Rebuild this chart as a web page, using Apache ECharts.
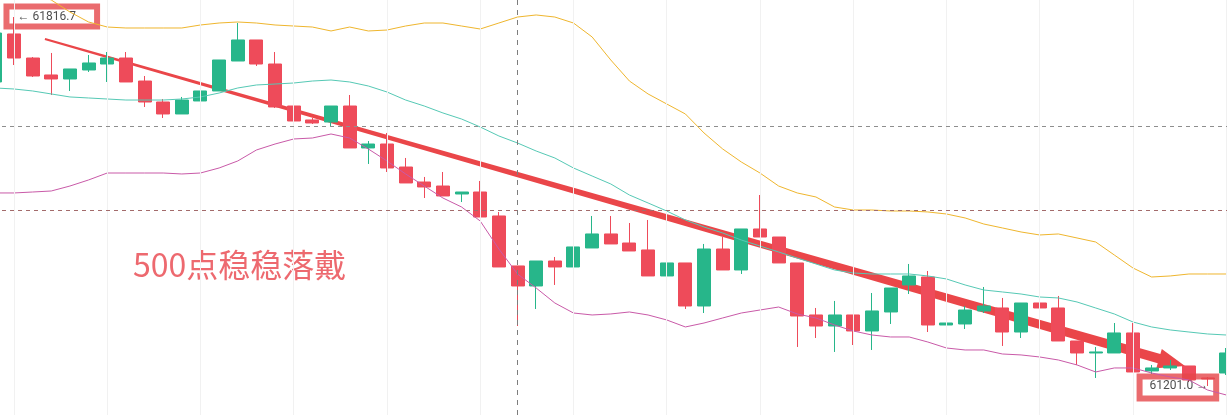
<!DOCTYPE html>
<html><head><meta charset="utf-8">
<script src="https://cdn.jsdelivr.net/npm/echarts@6/dist/echarts.min.js"></script>
<style>html,body{margin:0;padding:0;background:#fff;overflow:hidden}#c{width:1250px;height:415px;margin-left:-13.975px}</style>
</head><body><div id="c"></div>
<script>
// [open, close, low, high]
const candles = [
[61708.3,61790.0,61704.9,61795.0],
[61788.4,61748.3,61736.6,61816.7],
[61748.3,61718.3,61716.6,61750.0],
[61720.0,61713.3,61686.6,61756.7],
[61713.3,61730.0,61693.3,61730.0],
[61728.3,61740.0,61725.0,61753.3],
[61738.3,61748.3,61708.3,61758.3],
[61748.3,61708.3,61708.3,61758.3],
[61709.9,61674.9,61666.6,61718.3],
[61674.9,61654.9,61648.2,61679.9],
[61654.9,61678.2,61654.9,61683.3],
[61676.6,61693.3,61676.6,61711.6],
[61693.3,61745.0,61693.3,61745.0],
[61743.3,61778.4,61743.3,61806.7],
[61778.4,61738.3,61735.0,61778.4],
[61738.3,61666.6,61664.9,61758.3],
[61668.2,61643.2,61604.8,61668.2],
[61644.9,61639.9,61638.2,61648.2],
[61641.5,61668.2,61633.2,61668.2],
[61668.2,61598.2,61598.2,61686.6],
[61598.2,61604.8,61571.5,61609.8],
[61604.8,61564.8,61558.1,61623.2],
[61566.4,61539.8,61539.8,61581.5],
[61541.4,61533.1,61514.7,61549.8],
[61534.7,61518.1,61518.1,61558.1],
[61521.4,61524.7,61508.0,61524.7],
[61524.7,61483.0,61483.0,61543.1],
[61484.7,61399.6,61399.6,61491.4],
[61401.3,61367.9,61301.1,61401.3],
[61367.9,61409.6,61329.5,61409.6],
[61409.6,61399.6,61369.6,61416.3],
[61399.6,61433.0,61392.9,61443.0],
[61431.3,61454.7,61431.3,61484.7],
[61454.7,61438.0,61438.0,61484.7],
[61439.6,61426.3,61426.3,61473.0],
[61428.0,61384.6,61384.6,61478.0],
[61384.6,61406.3,61366.2,61416.3],
[61406.3,61334.5,61329.5,61406.3],
[61334.5,61429.6,61322.8,61438.0],
[61429.6,61394.6,61394.6,61449.6],
[61394.6,61463.0,61387.9,61463.0],
[61463.0,61449.6,61449.6,61519.7],
[61449.6,61406.3,61406.3,61449.6],
[61406.3,61317.8,61266.1,61406.3],
[61319.5,61301.1,61281.1,61331.2],
[61301.1,61319.5,61257.8,61342.9],
[61319.5,61292.8,61269.4,61319.5],
[61292.8,61326.2,61261.1,61356.2],
[61324.5,61364.5,61304.5,61364.5],
[61369.6,61384.6,61354.5,61404.6],
[61382.9,61302.8,61291.1,61392.9],
[61302.8,61306.1,61284.5,61342.9],
[61304.5,61327.8,61296.1,61334.5],
[61326.2,61334.5,61322.8,61366.2],
[61331.2,61291.1,61267.8,61347.9],
[61291.1,61339.5,61281.1,61339.5],
[61339.5,61331.2,61311.2,61344.5],
[61331.2,61276.1,61276.1,61351.2],
[61276.1,61256.1,61236.1,61276.1],
[61256.1,61257.8,61214.4,61266.1],
[61256.1,61289.5,61256.1,61306.1],
[61289.5,61224.4,61224.4,61306.1],
[61226.1,61231.1,61221.0,61236.1],
[61231.1,61234.4,61227.7,61244.4],
[61234.4,61211.0,61207.7,61234.4],
[61214.4,61212.7,61201.0,61216.0],
[61222.7,61256.1,61219.4,61264.4]
];
const upperBand = [61903.5,61878.5,61858.4,61845.1,61825.1,61808.4,61800.0,61798.4,61798.4,61798.4,61798.4,61803.4,61806.7,61808.4,61806.7,61803.4,61801.7,61800.0,61793.4,61800.0,61793.4,61795.0,61801.7,61806.7,61806.7,61801.7,61796.7,61806.7,61816.7,61820.1,61816.7,61806.7,61783.4,61745.0,61709.9,61688.3,61671.6,61654.9,61623.2,61596.5,61574.8,61556.4,61534.7,61523.1,61516.4,61499.7,61494.7,61494.7,61493.0,61493.0,61491.4,61488.0,61481.4,61471.3,61464.7,61458.0,61453.0,61454.7,61448.0,61441.3,61419.6,61397.9,61382.9,61384.6,61387.9,61387.9,61387.9];
const middleBand = [61698.3,61696.6,61693.3,61688.3,61683.3,61681.6,61679.9,61678.2,61678.2,61678.2,61679.9,61683.3,61689.9,61698.3,61703.3,61704.9,61706.6,61709.9,61711.6,61708.3,61701.6,61691.6,61678.2,61668.2,61656.6,61646.5,61633.2,61618.2,61606.5,61593.1,61581.5,61564.8,61551.4,61538.1,61519.7,61506.4,61493.0,61478.0,61466.3,61456.3,61444.6,61434.6,61424.6,61414.6,61404.6,61394.6,61389.6,61387.9,61387.9,61387.9,61384.6,61379.6,61369.6,61361.2,61357.9,61354.5,61349.5,61347.9,61341.2,61331.2,61321.2,61307.8,61299.5,61294.5,61291.1,61287.8,61286.1];
const lowerBand = [61523.1,61523.1,61524.7,61526.4,61534.7,61544.8,61556.4,61556.4,61556.4,61556.4,61554.8,61556.4,61564.8,61576.5,61594.8,61604.8,61613.2,61614.8,61621.5,61614.8,61596.5,61576.5,61554.8,61534.7,61514.7,61499.7,61476.3,61429.6,61387.9,61364.5,61339.5,61322.8,61319.5,61321.2,61324.5,61319.5,61311.2,61299.5,61306.1,61314.5,61322.8,61327.8,61332.8,61321.2,61314.5,61302.8,61292.8,61286.1,61282.8,61282.8,61274.4,61264.4,61261.1,61261.1,61254.4,61252.8,61249.4,61244.4,61236.1,61224.4,61231.1,61231.1,61222.7,61216.0,61211.0,61194.3,61186.0];
const categories = candles.map((_, i) => String(i));
const gridCols = [1, 6, 11, 16, 21, 26, 31, 36, 41, 46, 51, 56, 61, 66];
const crossCol = 28;
const dashedLevels = [61634.9, 61494.7];
const highMark = [1, 61816.7];
const lowMark = [65, 61201.0];
const trendArrow = [2.66, 61780.0, 63.79, 61234.4]; // start idx, price, tip idx, price
const noteText = '500点稳稳落戴';
const notePos = [7.38, 61402.9];
const yMin = 61152.6, yMax = 61845.1;

const UP = '#27b68a', DOWN = '#ee4b5a', RED = '#ea4649';
const N = categories.length;
const band = 18.65;

const chart = echarts.init(document.getElementById('c'), null, {renderer: 'canvas'});
chart.setOption({
  animation: false,
  backgroundColor: '#ffffff',
  grid: {left: 0, top: 0, width: band * N, height: 415, containLabel: false},
  xAxis: [
    {type: 'category', data: categories, boundaryGap: true, show: false},
    {type: 'value', min: -0.5, max: N - 0.5, show: false}
  ],
  yAxis: [{type: 'value', min: yMin, max: yMax, show: false, scale: true}],
  series: [
    {
      type: 'line', data: gridCols.map(() => null), silent: true,
      markLine: {
        silent: true, symbol: 'none', label: {show: false},
        lineStyle: {color: '#f1f1f1', type: 'solid', width: 1},
        data: gridCols.map(c => ({xAxis: c}))
      }
    },
    {
      type: 'candlestick', data: candles, barWidth: 13.5,
      itemStyle: {color: UP, color0: DOWN, borderColor: UP, borderColor0: DOWN, borderWidth: 1},
      markLine: {
        silent: true, symbol: 'none', label: {show: false},
        data: [
          {yAxis: dashedLevels[0], lineStyle: {color: '#8e8e8e', type: [4, 4], width: 1}},
          {yAxis: dashedLevels[1], lineStyle: {color: '#a36b6b', type: [4, 4], width: 1}},
          {xAxis: crossCol, lineStyle: {color: '#7d7d7d', type: [5, 5], width: 1}}
        ]
      }
    },
    {type: 'line', data: upperBand, showSymbol: false, lineStyle: {color: '#efb62e', width: 1}, silent: true},
    {type: 'line', data: middleBand, showSymbol: false, lineStyle: {color: '#56c9b5', width: 1}, silent: true},
    {type: 'line', data: lowerBand, showSymbol: false, lineStyle: {color: '#c95aa8', width: 1}, silent: true},
    {
      type: 'custom', xAxisIndex: 1, yAxisIndex: 0, silent: true,
      data: [trendArrow],
      encode: {x: [0, 2], y: [1, 3]},
      renderItem: function (params, api) {
        const p0 = api.coord([api.value(0), api.value(1)]);
        const p1 = api.coord([api.value(2), api.value(3)]);
        const dx = p1[0] - p0[0], dy = p1[1] - p0[1];
        const len = Math.sqrt(dx * dx + dy * dy);
        const ux = dx / len, uy = dy / len, nx = -uy, ny = ux;
        const headLen = 27, headHalf = 10, w0 = 1, w1 = 4.8;
        const bx = p1[0] - ux * headLen, by = p1[1] - uy * headLen;
        const pts = [
          [p0[0] + nx * w0, p0[1] + ny * w0],
          [bx + nx * w1, by + ny * w1],
          [bx + nx * headHalf, by + ny * headHalf],
          [p1[0], p1[1]],
          [bx - nx * headHalf, by - ny * headHalf],
          [bx - nx * w1, by - ny * w1],
          [p0[0] - nx * w0, p0[1] - ny * w0]
        ];
        return {type: 'polygon', shape: {points: pts}, style: {fill: RED}};
      }
    },
    {
      type: 'scatter', xAxisIndex: 1, symbolSize: 0, silent: true,
      data: [notePos],
      label: {show: true, position: 'right', distance: 0, formatter: noteText,
        fontSize: 32, color: '#e8434b', fontFamily: '"Noto Sans CJK SC", sans-serif'}
    },
    {
      type: 'scatter', xAxisIndex: 1, symbolSize: 0, silent: true,
      data: [highMark],
      label: {show: true, position: [-7.5, -10.5], formatter: p => '← ' + p.value[1].toFixed(1),
        fontSize: 12, lineHeight: 14, color: '#222', fontFamily: 'Roboto, sans-serif',
        borderColor: '#e5464a', borderWidth: 3, padding: [3, 21, 3, 11], backgroundColor: 'rgba(255,255,255,0)'}
    },
    {
      type: 'scatter', xAxisIndex: 1, symbolSize: 0, silent: true,
      data: [lowMark],
      label: {show: true, position: [-68, -9.5], formatter: p => p.value[1].toFixed(1) + ' →',
        fontSize: 12, lineHeight: 14, color: '#222', fontFamily: 'Roboto, sans-serif',
        borderColor: '#e5464a', borderWidth: 3, padding: [3, 8, 5, 10], backgroundColor: 'rgba(255,255,255,0)'}
    }
  ]
});
</script>
</body></html>
